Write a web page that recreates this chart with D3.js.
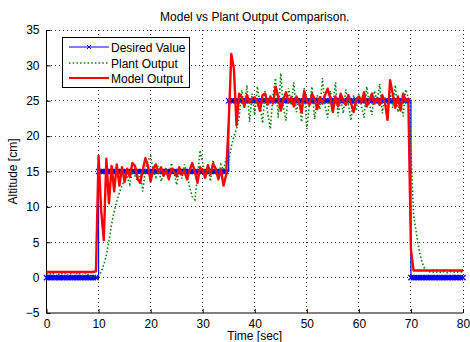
<!DOCTYPE html>
<html><head><meta charset="utf-8">
<script src="https://cdn.jsdelivr.net/npm/d3@7"></script>
<style>
body{margin:0;background:#fff;}
text{font-family:"Liberation Sans",Arial,Helvetica,sans-serif;}
</style></head><body>
<svg id="c" width="470" height="342"></svg>
<script>
// time samples every 0.5 s from 0 to 80
const tStep = 0.5;
const xTicks = [0,10,20,30,40,50,60,70,80];
const yTicks = [-5,0,5,10,15,20,25,30,35];
const seriesNames = ["Desired Value","Plant Output","Model Output"];

// desired setpoint per sample
const desired = [
 0,0,0,0,0,0,0,0,0,0,
 0,0,0,0,0,0,0,0,0,0,
 15,15,15,15,15,15,15,15,15,15,
 15,15,15,15,15,15,15,15,15,15,
 15,15,15,15,15,15,15,15,15,15,
 15,15,15,15,15,15,15,15,15,15,
 15,15,15,15,15,15,15,15,15,15,
 25,25,25,25,25,25,25,25,25,25,
 25,25,25,25,25,25,25,25,25,25,
 25,25,25,25,25,25,25,25,25,25,
 25,25,25,25,25,25,25,25,25,25,
 25,25,25,25,25,25,25,25,25,25,
 25,25,25,25,25,25,25,25,25,25,
 25,25,25,25,25,25,25,25,25,25,
 0,0,0,0,0,0,0,0,0,0,
 0,0,0,0,0,0,0,0,0,0, 0
];
// plant output (green dotted)
const plant = [
 0.6,0.4,0.7,0.5,0.8,0.4,0.6,0.7,0.3,0.6,
 0.5,0.8,0.4,0.6,0.3,0.7,0.4,0.2,0.1,0.3,
 0.3,0.8,1.8,3.2,5.2,7.5,9.4,10.8,12.0,13.0,
 13.8,14.2,13.2,15.0,14.4,13.6,14.8,12.2,15.4,16.5,
 17.2,15.0,14.2,15.8,13.6,14.6,15.6,13.8,16.2,14.8,
 13.1,15.2,14.0,16.0,14.6,12.8,11.4,11.0,14.2,18.0,
 16.2,14.2,15.6,13.6,16.6,15.0,14.4,16.0,15.2,16.8,
 16.5,18.5,20.0,21.0,22.6,26.5,24.0,27.2,22.0,26.0,
 23.0,27.0,24.6,21.8,26.4,23.2,21.0,25.8,28.2,22.6,
 28.9,24.0,22.2,26.8,24.4,27.6,23.4,25.2,22.0,26.8,
 21.0,24.6,27.0,22.4,25.8,23.8,28.2,24.2,22.6,26.4,
 24.0,27.6,22.8,25.4,23.2,26.6,24.4,22.2,25.8,23.6,
 26.0,24.2,22.6,27.0,24.6,23.0,26.4,24.8,27.4,23.2,
 25.6,22.4,26.2,24.0,27.2,23.4,25.0,22.8,26.6,25.4,
 18.0,9.0,6.5,4.2,2.5,1.5,1.0,0.8,0.9,0.7,
 0.8,0.7,0.9,0.8,0.7,0.8,0.9,0.7,0.8,0.8, 0.8
];
// model output (red)
const model = [
 0.8,0.8,0.8,0.8,0.8,0.8,0.8,0.8,0.8,0.8,
 0.8,0.8,0.8,0.8,0.8,0.8,0.8,0.8,0.8,0.9,
 17.2,9.5,5.3,16.8,10.5,15.8,12.2,16.0,13.0,15.6,
 13.5,15.4,14.2,16.2,15.8,14.0,13.4,15.2,16.9,15.8,
 13.6,15.4,16.0,14.8,15.6,14.4,15.2,13.9,15.4,15.0,
 14.3,15.6,14.6,15.1,13.9,15.2,16.2,15.0,13.4,15.6,
 15.2,14.1,15.9,14.6,16.1,15.4,13.9,15.3,13.0,14.5,
 22.0,31.6,29.5,21.5,26.0,25.5,24.2,25.8,24.8,25.3,
 25.5,24.8,23.6,25.8,26.0,24.5,25.6,24.6,27.0,25.6,
 23.6,25.2,26.2,24.8,25.5,24.2,25.6,24.8,23.4,26.4,
 25.0,24.4,26.0,25.2,23.8,25.5,24.6,25.8,26.7,25.4,
 23.4,25.6,24.2,26.0,25.0,24.4,25.8,24.6,23.4,25.2,
 25.6,24.8,26.2,24.2,25.0,26.0,24.6,25.4,24.4,25.8,
 24.8,22.3,27.9,26.0,24.0,25.6,23.6,26.0,25.0,25.3,
 4.0,1.0,1.0,1.0,1.0,1.0,1.0,1.0,1.0,1.0,
 1.0,1.0,1.0,1.0,1.0,1.0,1.0,1.0,1.0,1.0, 1.0
];
const times = desired.map((_, i) => i * tStep);

const svg = d3.select("#c");
const m = {left: 46.5, right: 463, top: 30, bottom: 313};
const x = d3.scaleLinear().domain([0, 80]).range([m.left, m.right]);
const y = d3.scaleLinear().domain([-5, 35]).range([m.bottom, m.top]);

const clipId = "plotclip";
svg.append("defs").append("clipPath").attr("id", clipId)
  .append("rect").attr("x", m.left - 4).attr("y", m.top).attr("width", m.right - m.left + 8).attr("height", m.bottom - m.top);

// grid
const grid = svg.append("g");
xTicks.forEach(t => {
  if (t === 0) return;
  grid.append("line").attr("x1", x(t)).attr("x2", x(t)).attr("y1", m.top).attr("y2", m.bottom)
    .attr("stroke", "#000").attr("stroke-width", 0.8).attr("stroke-dasharray", "1,3").attr("shape-rendering", "crispEdges");
});
yTicks.forEach(t => {
  if (t === -5) return;
  grid.append("line").attr("x1", m.left).attr("x2", m.right).attr("y1", y(t)).attr("y2", y(t))
    .attr("stroke", "#000").attr("stroke-width", 0.8).attr("stroke-dasharray", "1,3").attr("shape-rendering", "crispEdges");
});

// axes
const xAxis = d3.axisBottom(x).tickValues(xTicks).tickSize(-4).tickPadding(6);
const yAxis = d3.axisLeft(y).tickValues(yTicks).tickSize(-4).tickPadding(7);
const gx = svg.append("g").attr("transform", `translate(0,${m.bottom})`).call(xAxis);
const gy = svg.append("g").attr("transform", `translate(${m.left},0)`).call(yAxis);
[gx, gy].forEach(g => {
  g.selectAll("path.domain").attr("stroke", "#000").attr("stroke-width", 1);
  g.selectAll(".tick line").attr("stroke", "#000");
  g.selectAll("text").attr("font-size", 12).attr("fill", "#000")
    .style("font-family", '"Liberation Sans",Arial,sans-serif');
});
gx.select("path.domain").attr("d", `M${m.left},0H${m.right}`);
gy.select("path.domain").attr("d", `M0,${m.top}V${m.bottom}`);

const plot = svg.append("g").attr("clip-path", `url(#${clipId})`);

// desired (blue, step, x markers)
const stepLine = d3.line().x((d, i) => x(times[i])).y(d => y(d)).curve(d3.curveStepAfter);
plot.append("path").datum(desired).attr("d", stepLine)
  .attr("fill", "none").attr("stroke", "#0000ff").attr("stroke-width", 1.2);
const flatLine = d3.line().x((d, i) => x(times[i])).y(d => y(d))
  .defined((d, i) => i === 0 || desired[i - 1] === d);
plot.append("path").datum(desired).attr("d", flatLine)
  .attr("fill", "none").attr("stroke", "#0000ff").attr("stroke-width", 3.2);
const mk = 2.6;
plot.append("g").selectAll("path.mk").data(desired).join("path")
  .attr("d", (d, i) => {
    const cx = x(times[i]), cy = y(d);
    return `M${cx-mk},${cy-mk}L${cx+mk},${cy+mk}M${cx-mk},${cy+mk}L${cx+mk},${cy-mk}`;
  })
  .attr("stroke", "#0000ff").attr("stroke-width", 1.3).attr("fill", "none");

// plant (green dotted)
const line = d3.line().x((d, i) => x(times[i])).y(d => y(d));
plot.append("path").datum(plant).attr("d", line)
  .attr("fill", "none").attr("stroke", "#008000").attr("stroke-width", 1.6)
  .attr("stroke-dasharray", "1.5,2.2");

// model (red)
plot.append("path").datum(model).attr("d", line)
  .attr("fill", "none").attr("stroke", "#ff0000").attr("stroke-width", 2.4)
  .attr("stroke-linejoin", "round");

// titles
svg.append("text").attr("x", (m.left + m.right) / 2).attr("y", 21).attr("text-anchor", "middle")
  .attr("font-size", 12).text("Model vs Plant Output Comparison.");
svg.append("text").attr("x", (m.left + m.right) / 2).attr("y", 340).attr("text-anchor", "middle")
  .attr("font-size", 12).text("Time [sec]");
svg.append("text").attr("transform", `translate(17,${(m.top + m.bottom) / 2}) rotate(-90)`)
  .attr("text-anchor", "middle").attr("font-size", 12).text("Altitude [cm]");

// legend
const lg = svg.append("g");
lg.append("rect").attr("x", 62.5).attr("y", 37.5).attr("width", 127).attr("height", 50)
  .attr("fill", "#fff").attr("stroke", "#000").attr("stroke-width", 1);
const rows = [47, 63, 78];
const styles = [
  {stroke: "#0000ff", w: 1, dash: null},
  {stroke: "#008000", w: 1.6, dash: "1.5,2.2"},
  {stroke: "#ff0000", w: 2.2, dash: null}
];
seriesNames.forEach((name, i) => {
  const yy = rows[i];
  lg.append("line").attr("x1", 69).attr("x2", 109).attr("y1", yy).attr("y2", yy)
    .attr("stroke", styles[i].stroke).attr("stroke-width", styles[i].w)
    .attr("stroke-dasharray", styles[i].dash);
  if (i === 0) {
    const cx = 89, s = 2;
    lg.append("path").attr("d", `M${cx-s},${yy-s}L${cx+s},${yy+s}M${cx-s},${yy+s}L${cx+s},${yy-s}`)
      .attr("stroke", "#0000ff").attr("stroke-width", 1);
  }
  lg.append("text").attr("x", 111).attr("y", yy + 4.5).attr("font-size", 12).text(name);
});
</script>
</body></html>
